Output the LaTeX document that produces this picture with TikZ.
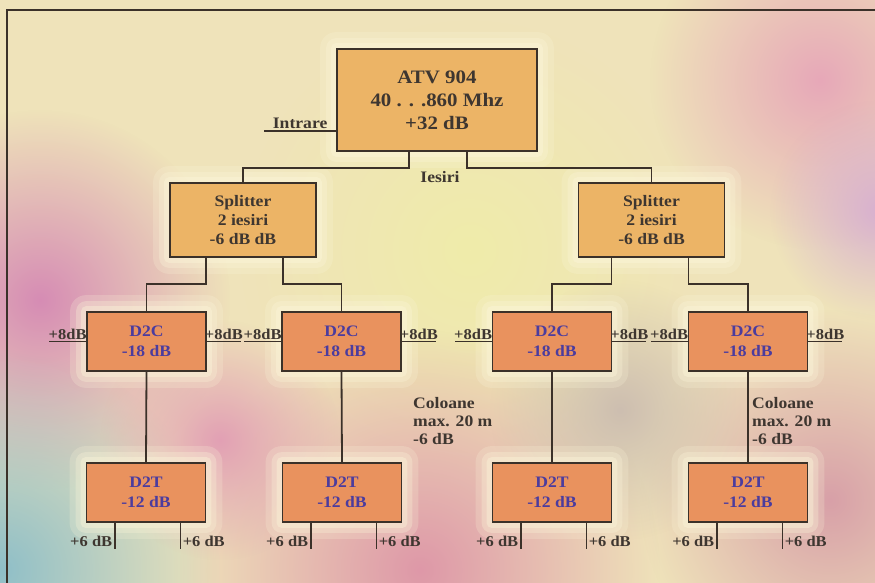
\documentclass[tikz,border=0pt]{standalone}
\usepackage{fontspec}
\setmainfont{Liberation Serif}[FakeStretch=1.1]
\usetikzlibrary{fadings}
\pgfdeclarelayer{bg}
\pgfsetlayers{bg,main}
\tikzfading[name=blob, inner color=transparent!0, outer color=transparent!100]
\definecolor{boxA}{HTML}{ECB466}
\definecolor{boxB}{HTML}{E9925E}
\definecolor{edgec}{HTML}{3B3129}
\definecolor{txtc}{HTML}{3E3630}
\definecolor{bluec}{HTML}{4B3C9E}
\definecolor{basec}{HTML}{EFE3BA}
\definecolor{haloc}{HTML}{FCF6DA}
\newcommand\boxhalo[1]{%
  \foreach \r/\o in {16/0.22,10/0.3,5/0.4}{%
    \fill[haloc, opacity=\o, rounded corners=\r pt]
      ([shift={(-\r,-\r)}]#1.north west) rectangle ([shift={(\r,\r)}]#1.south east);}}
\begin{document}
\begin{tikzpicture}[x=1pt,y=-1pt,
  ampbox/.style={draw=edgec, line width=1.8pt, fill=boxA, minimum width=200pt, minimum height=102pt,
    align=center, font=\fontsize{19}{23}\selectfont\bfseries, text=txtc, inner sep=0pt},
  spbox/.style={draw=edgec, line width=1.8pt, fill=boxA, minimum width=146pt, minimum height=74pt,
    align=center, font=\fontsize{16}{19}\selectfont\bfseries, text=txtc, inner sep=0pt},
  dbox/.style={draw=edgec, line width=1.8pt, fill=boxB, minimum width=119pt, minimum height=59pt,
    align=center, font=\fontsize{16}{20}\selectfont\bfseries, text=bluec, inner sep=0pt},
  wire/.style={draw=edgec, line width=1.8pt},
  lbl/.style={font=\fontsize{15}{17}\selectfont\bfseries, text=txtc, inner sep=1.5pt},
  big/.style={font=\fontsize{16}{18}\selectfont\bfseries, text=txtc, inner sep=0pt, align=left}
]
\useasboundingbox (0,0) rectangle (875,583);

% nodes
\node[ampbox] (atv) at (437,100) {ATV 904\\40 . . .860 Mhz\\+32 dB};
\node[spbox] (spL) at (243,220) {Splitter\\2 iesiri\\-6 dB dB};
\node[spbox] (spR) at (651.5,220) {Splitter\\2 iesiri\\-6 dB dB};
\node[dbox] (d1) at (146.5,341.5) {D2C\\-18 dB};
\node[dbox] (d2) at (341.5,341.5) {D2C\\-18 dB};
\node[dbox] (d3) at (552,341.5) {D2C\\-18 dB};
\node[dbox] (d4) at (748,341.5) {D2C\\-18 dB};
\node[dbox] (t1) at (146,492.5) {D2T\\-12 dB};
\node[dbox] (t2) at (342,492.5) {D2T\\-12 dB};
\node[dbox] (t3) at (552,492.5) {D2T\\-12 dB};
\node[dbox] (t4) at (748,492.5) {D2T\\-12 dB};

\node[lbl, font=\fontsize{16}{18}\selectfont\bfseries] (ies) at (440,177) {Iesiri};
\node[big, anchor=north west] (colL) at (413,397) {Coloane\\max. 20 m\\-6 dB};
\node[big, anchor=north west] (colR) at (752,397) {Coloane\\max. 20 m\\-6 dB};

% background
\begin{pgfonlayer}{bg}
  \fill[basec] (0,0) rectangle (875,583);
  \fill[color={rgb,255:red,240;green,236;blue,170}, path fading=blob] (470,250) circle (230);
  \fill[color={rgb,255:red,231;green,168;blue,184}, path fading=blob] (820,80) circle (170);
  \fill[color={rgb,255:red,216;green,176;blue,208}, path fading=blob] (880,210) circle (110);
  \fill[color={rgb,255:red,214;green,140;blue,180}, path fading=blob] (40,300) circle (190);
  \fill[color={rgb,255:red,143;green,191;blue,200}, path fading=blob] (0,570) circle (220);
  \fill[color={rgb,255:red,222;green,152;blue,168}, path fading=blob] (420,570) circle (240);
  \fill[color={rgb,255:red,216;green,160;blue,168}, path fading=blob] (830,500) circle (190);
  \fill[color={rgb,255:red,205;green,190;blue,176}, path fading=blob] (620,410) circle (130);
  \fill[color={rgb,255:red,226;green,160;blue,180}, path fading=blob] (220,440) circle (120);
  \draw[edgec, line width=1.2pt] (7,583) -- (7,10) -- (875,10);
  \boxhalo{atv}\boxhalo{spL}\boxhalo{spR}
  \boxhalo{d1}\boxhalo{d2}\boxhalo{d3}\boxhalo{d4}
  \boxhalo{t1}\boxhalo{t2}\boxhalo{t3}\boxhalo{t4}
\end{pgfonlayer}

% input
\draw[wire] ([yshift=21pt]atv.south west) -- ++(-72,0) node[midway, above, lbl, font=\fontsize{16}{18}\selectfont\bfseries] {Intrare};

% ATV to splitters
\draw[wire] ([xshift=-28pt]atv.south) -- ++(0,16) -| (spL.north);
\draw[wire] ([xshift=30pt]atv.south) -- ++(0,16) -| (spR.north);

% splitters to D2C
\draw[wire] ([xshift=-37pt]spL.south) -- ++(0,26) -| (d1.north);
\draw[wire] ([xshift=40pt]spL.south) -- ++(0,26) -| (d2.north);
\draw[wire] ([xshift=-40pt]spR.south) -- ++(0,26) -| (d3.north);
\draw[wire] ([xshift=37pt]spR.south) -- ++(0,26) -| (d4.north);

% D2C to D2T
\foreach \a/\b in {d1/t1,d2/t2,d3/t3,d4/t4}{
  \draw[wire] (\a.south) -- (\b.north);
}

% +8dB side outputs
\foreach \a in {d1,d2,d3,d4}{
  \draw[wire] (\a.west) -- ++(-37,0) node[midway, above, lbl, inner sep=1pt] {+8dB};
  \draw[wire] (\a.east) -- ++(34,0) node[midway, above, lbl, inner sep=1pt] {+8dB};
}

% D2T legs
\foreach \t in {t1,t2,t3,t4}{
  \draw[wire] ([xshift=29pt]\t.south west) -- ++(0,26) node[pos=0.72, left, lbl] {+6 dB};
  \draw[wire] ([xshift=-26pt]\t.south east) -- ++(0,26) node[pos=0.72, right, lbl] {+6 dB};
}
\end{tikzpicture}
\end{document}
